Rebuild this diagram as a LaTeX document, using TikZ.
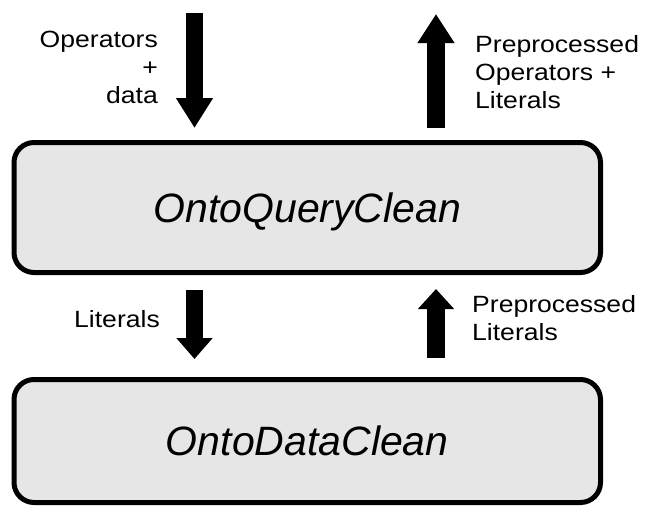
\documentclass[tikz,border=0pt]{standalone}
\usepackage{fontspec}
\setmainfont{Liberation Sans}
\usepackage{graphicx}
\usetikzlibrary{arrows.meta}
\definecolor{boxgray}{RGB}{230,230,230}
\newcommand\wideline[1]{\scalebox{1.13}[1]{#1}}
\begin{document}
\begin{tikzpicture}[x=1pt,y=-1pt,
  modbox/.style={draw=black, line width=5pt, fill=boxgray, rounded corners=20pt,
    minimum width=586.5pt, inner sep=0pt, text height=29.3pt, text depth=0pt,
    font=\fontsize{41}{49}\selectfont\itshape},
  fatarrow/.style={draw=black, line width=17.5pt, line cap=butt,
    -{Triangle[width=35pt,length=#1]}},
  lbl/.style={inner sep=0pt, font=\fontsize{23.5}{28}\selectfont}]
\useasboundingbox (0,0) rectangle (649,506);
% boxes
\node[modbox, minimum height=130pt] (qc) at (307.25,207.5) {OntoQueryClean};
\node[modbox, minimum height=123pt] (dc) at (307.25,441) {OntoDataClean};
% arrow end points
\coordinate (in1) at (194.5,13);
\coordinate (in1e) at (194.5,128);
\coordinate (out1) at (436,128);
\coordinate (out1e) at (436,14);
\coordinate (in2) at (194.5,290);
\coordinate (in2e) at (194.5,359);
\coordinate (out2) at (436,358);
\coordinate (out2e) at (436,289);
% arrows
\draw[fatarrow=30pt] (in1) -- (in1e);
\draw[fatarrow=29pt] (out1) -- (out1e);
\draw[fatarrow=21pt] (in2) -- (in2e);
\draw[fatarrow=20pt] (out2) -- (out2e);
% labels
\node[lbl, align=right, anchor=north east] (t1) at (158,31) {\wideline{Operators}\\\wideline{+}\\\wideline{data}};
\node[lbl, align=left, anchor=north west] (t2) at (475,35) {\wideline{Preprocessed}\\\wideline{Operators +}\\\wideline{Literals}};
\node[lbl, anchor=base east] (t3) at (160,327) {\wideline{Literals}};
\node[lbl, align=left, anchor=north west] (t4) at (472,295) {\wideline{Preprocessed}\\\wideline{Literals}};
\end{tikzpicture}
\end{document}
